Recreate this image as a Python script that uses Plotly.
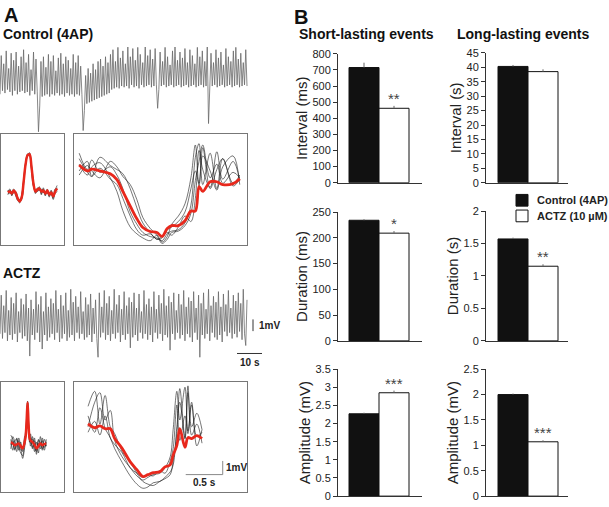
import numpy as np
import plotly.graph_objects as go

W, H = 609, 507
FONT = "Liberation Sans, Arial, sans-serif"

# ---------------- Panel B data ----------------
conditions = ["Control (4AP)", "ACTZ (10 µM)"]
short_interval = [715, 462]
short_interval_err = [30, 15]
long_interval = [40.3, 38.5]
long_interval_err = [0.5, 0.8]
short_duration = [234, 209]
short_duration_err = [2, 4]
long_duration = [1.57, 1.15]
long_duration_err = [0.02, 0.03]
short_amplitude = [2.27, 2.85]
short_amplitude_err = [0.03, 0.06]
long_amplitude = [2.0, 1.07]
long_amplitude_err = [0.02, 0.03]
stars_short = ["**", "*", "***"]
stars_long = ["", "**", "***"]

# ---------------- Panel A data (mV) ----------------
control_trace = [
    -0.2, 3.1, 0.1, 2.4, -0.1, 3.5, 0.2, 2.0, 0.0, 3.3,
    -0.3, 2.7, 0.1, 3.4, -0.2, 2.2, 0.0, 3.0, 0.1, 3.6,
    -0.1, 2.5, 0.0, 3.2, -0.3, 1.9, 0.1, 3.4, -0.2, 2.8,
    0.0, -3.4, -1.2, 2.6, -0.4, 3.0, -0.3, 2.1, -0.2, 3.2,
    -0.4, 2.6, -0.2, 3.1, -0.3, 1.8, -0.1, 2.9, -0.3, 3.3,
    -0.2, 2.4, -0.4, 3.0, -0.1, 2.7, -0.3, 2.0, -0.2, 3.2,
    -0.4, 2.5, -0.2, 3.1, -0.3, 2.2, -0.2, -3.3, -1.6, 1.4,
    -1.0, 2.0, -0.9, 1.6, -0.8, 2.4, -0.7, 1.9, -0.6, 2.6,
    -0.5, 2.8, -0.4, 2.2, -0.3, 3.0, -0.2, 2.5, -0.1, 3.2,
    0.2, 3.6, 0.3, 2.6, 0.4, 3.8, 0.3, 2.9, 0.5, 3.5,
    0.4, 2.4, 0.5, 3.9, 0.3, 3.0, 0.6, 3.7, 0.4, 2.7,
    0.5, 3.8, 0.3, 3.2, 0.6, 2.5, 0.4, 3.9, 0.5, 3.1,
    0.6, 3.6, 0.4, 2.8, 0.5, 3.7, 0.6, -1.4, 0.2, 3.4,
    0.5, 2.6, 0.6, 3.8, 0.4, 3.0, 0.5, 2.3, 0.6, 3.5,
    0.4, 3.9, 0.5, 2.7, 0.6, 3.4, 0.4, 2.9, 0.5, 3.7,
    0.6, 2.5, 0.4, 3.6, 0.5, 3.1, 0.6, 2.4, 0.4, 3.8,
    0.5, 3.0, 0.6, 3.5, 0.4, 2.6, 0.5, 3.9, -2.7, 0.3,
    3.3, 0.5, 2.5, 0.6, 3.6, 0.4, 2.9, 0.5, 3.4, 0.6,
    2.3, 0.4, 3.7, 0.5, 3.0, 0.6, 2.6, 0.4, 3.5, 0.5,
    3.8, 0.6, 2.8, 0.4, 3.3, 0.5, 2.5, 0.6, 3.6, 0.5,
]
actz_trace = [
    0.1, 3.4, -0.3, 2.5, 0.2, 3.8, -0.5, 2.1, 0.0, 3.2,
    -0.4, 2.7, 0.1, 3.6, -0.6, 2.0, 0.2, 3.1, -0.3, 2.6,
    -0.1, 3.5, -0.5, 2.3, -1.8, 3.0, 0.0, 2.2, -0.4, 3.7,
    0.2, 2.6, -0.6, 3.3, -1.2, 2.0, 0.0, 3.6, -0.5, 2.4,
    -0.2, 3.1, 0.1, 2.7, -0.4, 3.8, 0.2, 2.2, -0.6, 3.4,
    -0.3, 2.5, 0.1, 3.6, -0.5, 2.1, -0.2, 3.9, 0.0, 2.8,
    -0.5, 3.3, 0.2, 2.4, -0.3, 3.7, 0.1, 2.0, -0.4, 3.2,
    -0.2, 2.6, 0.0, 3.5, -0.6, 2.3, 0.1, 3.0, -0.3, -1.9,
    3.6, -0.2, 2.4, 0.2, 3.8, -0.4, 2.7, 0.0, 3.3, -0.5,
    2.1, 0.1, 3.9, -0.3, 2.6, 0.2, 3.4, -0.6, 2.2, 0.0,
    3.7, -0.4, 2.5, 0.1, 3.2, -1.1, 2.8, -0.2, 3.6, 0.0,
    2.3, -0.5, 3.5, 0.2, 2.0, -0.3, 3.8, 0.1, 2.6, -0.4,
    3.1, 0.0, 2.4, -0.6, 3.7, 0.2, 2.2, -0.3, 3.4, 0.1,
    2.7, -0.5, 3.9, 0.0, 2.5, -0.2, 3.3, -1.3, 2.8, 0.1,
    3.6, -0.4, 2.1, 0.2, 3.5, -0.3, 2.6, 0.0, 3.8, -0.5,
    2.4, 0.1, 3.2, -0.2, 2.9, -0.6, 3.7, 0.2, 2.3, -0.4,
    3.4, -1.9, 2.7, 0.0, 3.6, -0.3, 2.2, 0.1, 3.9, -0.5,
    2.5, 0.2, 3.3, -0.2, 2.8, -0.4, 3.7, 0.0, 2.4, -0.6,
    3.5, 0.3, 2.6, -0.1, 3.8, 0.2, 2.3, -0.3, 3.4, 0.1,
    2.9, -0.2, 3.6, 0.3, 2.7, -0.4, 3.9, 0.1, -0.9, 3.0,
]
trace_duration_s = 98.8

# short-lasting event overlays (time in ms)
ctrl_short_t = [28, 36, 44, 52, 60, 68, 76, 84, 92, 100, 108, 116, 124,
                132, 140, 148, 156, 164, 172, 180, 188, 196, 204, 212, 220, 228]
ctrl_short_avg = [0, 0.08, -0.08, 0.17, -0.08, -0.5, -0.75, -0.42, 0.92, 2.42, 3.17, 3.25, 2.17,
                  0.75, 0.08, 0.25, 0.33, 0.08, 0.17, -0.08, 0.17, -0.17, 0, -0.33, 0.08, 0.33]
ctrl_short_sweeps = [
    [0.2, -0.1, 0.1, 0.3, -0.2, -0.6, -0.9, -0.3, 1.1, 2.6, 3.3, 3.1, 1.9, 0.5, 0.3, 0.1, 0.5, -0.1, 0.3, -0.3, 0.2, -0.4, 0.1, -0.5, 0.2, 0.6],
    [-0.2, 0.2, -0.2, 0.0, 0.1, -0.4, -0.8, -0.6, 0.7, 2.3, 3.2, 3.4, 2.4, 0.9, -0.1, 0.4, 0.2, 0.2, 0.0, 0.1, -0.1, 0.0, -0.2, -0.2, -0.1, 0.1],
    [0.1, 0.3, -0.3, 0.2, -0.3, -0.7, -0.6, -0.5, 1.0, 2.5, 3.1, 3.2, 2.0, 0.6, 0.2, 0.3, 0.4, -0.2, 0.4, -0.2, 0.3, -0.3, -0.1, -0.6, 0.0, 0.4],
    [-0.1, 0.0, 0.0, 0.1, 0.0, -0.5, -0.8, -0.2, 0.9, 2.4, 3.2, 3.3, 2.2, 0.8, 0.0, 0.1, 0.2, 0.3, 0.0, 0.0, 0.0, -0.1, 0.2, -0.3, 0.3, 0.2],
]
actz_short_t = [40, 48, 56, 64, 72, 80, 88, 96, 100, 104, 108, 112, 116,
                120, 128, 136, 144, 152, 160, 168, 176, 184]
actz_short_avg = [0.07, 0, -0.14, -0.07, 0, -0.2, -0.36, 0.1, 0.5, 1.6, 3.0, 1.4, 0.4,
                  0.21, 0.1, -0.1, -0.36, -0.2, 0.0, -0.14, -0.05, 0.0]
actz_short_sweeps = [
    [0.6, 0.3, -0.5, 0.4, -0.3, -0.7, -0.9, 0.3, 0.9, 1.9, 3.1, 1.6, 0.2, 0.7, -0.3, 0.4, -0.8, 0.3, -0.4, 0.2, -0.5, 0.3],
    [-0.4, 0.5, 0.1, -0.6, 0.4, -0.2, -1.1, -0.3, 0.4, 1.4, 2.9, 1.2, 0.6, -0.2, 0.5, -0.6, 0.1, -0.7, 0.5, -0.4, 0.3, -0.2],
    [0.3, -0.5, 0.2, 0.3, -0.5, 0.1, -0.6, 0.5, 0.6, 1.7, 3.0, 1.3, 0.1, 0.4, -0.4, 0.2, -0.5, 0.0, -0.2, 0.4, -0.3, 0.1],
    [-0.1, 0.2, -0.4, -0.2, 0.2, -0.5, -0.4, -0.1, 0.5, 1.5, 3.0, 1.5, 0.5, 0.0, 0.3, -0.3, -0.6, 0.2, 0.1, -0.5, 0.0, -0.2],
]

# long-lasting event overlays (time in s)
ctrl_long_t = [0.07, 0.18, 0.24, 0.35, 0.49, 0.58, 0.66, 0.76, 0.85, 0.93, 1.03, 1.12, 1.19,
               1.26, 1.32, 1.41, 1.50, 1.58, 1.64, 1.69, 1.74, 1.84, 1.93, 2.01, 2.15, 2.24]
ctrl_long_avg = [1.93, 1.5, 1.64, 1.5, 1.29, 0.86, 0.0, -1.07, -2.0, -2.64, -2.93, -3.0, -3.29,
                 -2.71, -2.5, -2.5, -2.14, -1.43, -1.43, 0.36, 0.0, 0.71, 0.71, 0.5, 0.57, 0.93]
ctrl_long_sweeps = [
    [2.8, 1.6, 2.3, 1.4, 1.8, 1.2, 0.2, -1.5, -2.4, -3.0, -3.3, -3.4, -3.6, -3.1, -2.9, -2.8, -2.3, -1.0, 2.5, 3.5, 0.5, 2.8, 0.2, 2.4, 0.6, 1.2],
    [1.5, 2.2, 1.1, 2.5, 1.9, 1.6, 1.3, 0.2, -1.2, -2.3, -3.0, -3.5, -3.3, -3.0, -3.2, -2.6, -1.8, -2.2, -0.5, 3.0, 1.6, 0.3, 2.9, 0.9, 2.2, 0.8],
    [2.0, 1.2, 1.8, 2.1, 1.0, 0.0, -1.4, -2.6, -3.1, -3.4, -3.6, -3.2, -3.7, -3.3, -2.4, -1.8, -0.9, 1.0, 3.4, 0.4, 2.6, 1.5, 0.1, 1.8, 2.6, 0.5],
    [1.2, 1.9, 1.5, 1.0, 2.2, 1.8, 1.1, 0.5, -0.6, -1.9, -2.7, -3.2, -3.8, -3.5, -3.0, -2.9, -2.5, -1.6, 0.8, 2.2, 3.4, 1.0, 2.0, 0.6, 1.4, 1.0],
    [2.4, 1.4, 1.1, 1.7, 0.9, 0.5, -0.5, -1.8, -2.8, -3.2, -3.1, -3.5, -3.4, -2.8, -2.6, -2.2, -1.5, 0.2, 1.5, 0.6, 3.2, 0.2, 1.6, 2.4, 0.4, 0.9],
]
actz_long_t = [0.19, 0.28, 0.35, 0.42, 0.49, 0.55, 0.65, 0.76, 0.85, 0.93, 1.0, 1.07, 1.16,
               1.23, 1.30, 1.34, 1.39, 1.43, 1.50, 1.54, 1.59, 1.66, 1.73]
actz_long_avg = [1.21, 0.93, 1.07, 0.86, 0.86, 0.14, -0.57, -1.57, -2.14, -2.64, -2.5, -2.36, -2.29,
                 -1.93, -1.79, -1.07, -0.36, 0.86, -0.5, 0.21, 0.14, 0.36, 0.14]
actz_long_sweeps = [
    [2.5, 3.6, 1.2, 3.3, 1.0, 0.5, -0.8, -1.6, -2.4, -3.0, -3.2, -3.3, -3.0, -2.8, -2.5, -1.5, 0.5, 3.8, 0.2, 3.5, 1.0, 2.0, 0.8],
    [1.0, 2.8, 3.5, 1.5, 2.2, 0.0, -1.2, -2.0, -2.6, -2.9, -2.7, -2.5, -2.4, -2.0, -1.2, 0.8, 3.6, 1.5, 3.9, 0.5, 2.8, 0.3, 0.6],
    [1.8, 0.6, 2.4, 0.9, 0.2, -0.6, -1.6, -2.6, -3.2, -3.5, -3.4, -3.1, -3.0, -2.7, -2.3, -1.8, 1.0, 2.8, 0.1, 4.0, 0.4, 1.2, -0.2],
    [0.6, 1.4, 0.4, 1.8, 0.2, -0.3, -0.9, -2.0, -2.4, -2.7, -2.5, -2.6, -2.2, -2.4, -1.5, -0.6, 2.6, 0.0, 1.8, 0.7, 2.6, -0.4, 0.8],
]

# ---------------- helpers ----------------
def dom_x(a, b):
    return [a / W, b / W]

def dom_y(top, bottom):
    return [1 - bottom / H, 1 - top / H]

fig = go.Figure()
layout = dict(
    width=W, height=H, margin=dict(l=0, r=0, t=0, b=0),
    paper_bgcolor="white", plot_bgcolor="white", showlegend=False,
    font=dict(family=FONT, color="#222"),
)
annotations = []
shapes = []

RED = "#e8281c"
SWEEP = "#1a1a1a"
TRACE = "#6a6a6a"

def hidden_axes(n, xd, yd, xr, yr, box=False):
    ax = dict(domain=xd, range=xr, showgrid=False, zeroline=False, showticklabels=False,
              ticks="", anchor=f"y{n}", fixedrange=True)
    ay = dict(domain=yd, range=yr, showgrid=False, zeroline=False, showticklabels=False,
              ticks="", anchor=f"x{n}", fixedrange=True)
    if box:
        for a in (ax, ay):
            a.update(showline=True, mirror=True, linecolor="#777", linewidth=1)
    layout[f"xaxis{n}"] = ax
    layout[f"yaxis{n}"] = ay

# 1: control continuous trace
t_ctrl = np.linspace(0, trace_duration_s, len(control_trace))
hidden_axes(1, dom_x(0, 290), dom_y(42, 130), [0, 116], [-3.5, 3.83])
fig.add_trace(go.Scatter(x=t_ctrl, y=control_trace, mode="lines",
                         line=dict(color=TRACE, width=0.8), xaxis="x1", yaxis="y1"))

# 4: ACTZ continuous trace + scale bars
t_actz = np.linspace(0, trace_duration_s, len(actz_trace))
hidden_axes(4, dom_x(0, 290), dom_y(285, 372), [0, 116], [-2.92, 4.33])
fig.add_trace(go.Scatter(x=t_actz, y=actz_trace, mode="lines",
                         line=dict(color=TRACE, width=0.8), xaxis="x4", yaxis="y4"))
fig.add_trace(go.Scatter(x=[94.8, 104.8], y=[-1.58, -1.58], mode="lines",
                         line=dict(color="#333", width=1), xaxis="x4", yaxis="y4"))
fig.add_trace(go.Scatter(x=[101.2, 101.2], y=[0.33, 1.33], mode="lines",
                         line=dict(color="#333", width=1), xaxis="x4", yaxis="y4"))
annotations.append(dict(x=102.6, y=0.83, xref="x4", yref="y4", text="<b>1mV</b>", showarrow=False,
                        xanchor="left", yanchor="middle", font=dict(size=10, color="#222")))
annotations.append(dict(x=99.8, y=-2.33, xref="x4", yref="y4", text="<b>10 s</b>", showarrow=False,
                        xanchor="center", yanchor="middle", font=dict(size=10, color="#222")))

# 2: control short inset
hidden_axes(2, dom_x(1, 64), dom_y(131, 245), [0, 256], [-4.5, 5.0], box=True)
for sw in ctrl_short_sweeps:
    fig.add_trace(go.Scatter(x=ctrl_short_t, y=sw, mode="lines", line=dict(color=SWEEP, width=0.6, shape="spline"),
                             xaxis="x2", yaxis="y2"))
fig.add_trace(go.Scatter(x=ctrl_short_t, y=ctrl_short_avg, mode="lines", line=dict(color=RED, width=2.5, shape="spline"),
                         xaxis="x2", yaxis="y2"))

# 3: control long inset
hidden_axes(3, dom_x(74, 247), dom_y(131, 245), [0, 2.338], [-3.93, 4.21], box=True)
for sw in ctrl_long_sweeps:
    fig.add_trace(go.Scatter(x=ctrl_long_t, y=sw, mode="lines", line=dict(color=SWEEP, width=0.6, shape="spline"),
                             xaxis="x3", yaxis="y3"))
fig.add_trace(go.Scatter(x=ctrl_long_t, y=ctrl_long_avg, mode="lines", line=dict(color=RED, width=2.8, shape="spline"),
                         xaxis="x3", yaxis="y3"))

# 5: ACTZ short inset
hidden_axes(5, dom_x(1, 64), dom_y(385, 498), [0, 256], [-3.57, 4.5], box=True)
for sw in actz_short_sweeps:
    fig.add_trace(go.Scatter(x=actz_short_t, y=sw, mode="lines", line=dict(color=SWEEP, width=0.6, shape="spline"),
                             xaxis="x5", yaxis="y5"))
fig.add_trace(go.Scatter(x=actz_short_t, y=actz_short_avg, mode="lines", line=dict(color=RED, width=2.5, shape="spline"),
                         xaxis="x5", yaxis="y5"))

# 6: ACTZ long inset + scale bars
hidden_axes(6, dom_x(74, 247), dom_y(385, 498), [0, 2.338], [-3.79, 4.29], box=True)
for sw in actz_long_sweeps:
    fig.add_trace(go.Scatter(x=actz_long_t, y=sw, mode="lines", line=dict(color=SWEEP, width=0.6, shape="spline"),
                             xaxis="x6", yaxis="y6"))
fig.add_trace(go.Scatter(x=actz_long_t, y=actz_long_avg, mode="lines", line=dict(color=RED, width=2.8, shape="spline"),
                         xaxis="x6", yaxis="y6"))
fig.add_trace(go.Scatter(x=[1.51, 2.01, 2.01], y=[-2.5, -2.5, -1.5], mode="lines",
                         line=dict(color="#888", width=1), xaxis="x6", yaxis="y6"))
annotations.append(dict(x=2.03, y=-1.95, xref="x6", yref="y6", text="<b>1mV</b>", showarrow=False,
                        xanchor="left", yanchor="middle", font=dict(size=10, color="#222")))
annotations.append(dict(x=1.76, y=-3.05, xref="x6", yref="y6", text="<b>0.5 s</b>", showarrow=False,
                        xanchor="center", yanchor="middle", font=dict(size=10, color="#222")))

# ---------------- Panel B bar charts ----------------
bar_panels = [
    (7, short_interval, short_interval_err, stars_short[0], "Interval (ms)", 100, 800, (338, 422), (49, 181), 0.133),
    (8, long_interval, long_interval_err, stars_long[0], "Interval (s)", 5, 45, (486, 568), (48, 181), 0.1),
    (9, short_duration, short_duration_err, stars_short[1], "Duration (ms)", 50, 250, (338, 422), (211, 343), 0.133),
    (10, long_duration, long_duration_err, stars_long[1], "Duration (s)", 0.5, 2, (486, 568), (210, 343), 0.1),
    (11, short_amplitude, short_amplitude_err, stars_short[2], "Amplitude (mV)", 0.5, 3.5, (338, 422), (372, 502), 0.133),
    (12, long_amplitude, long_amplitude_err, stars_long[2], "Amplitude (mV)", 0.5, 2.5, (486, 568), (372, 502), 0.1),
]
for n, vals, errs, star, title, dtick, ymax, xpx, ypx, x0 in bar_panels:
    width_units = (xpx[1] - xpx[0]) / 30.0
    layout[f"xaxis{n}"] = dict(domain=dom_x(*xpx), range=[x0, x0 + width_units], showgrid=False, zeroline=False,
                               showticklabels=False, ticks="", showline=True, linecolor="#333", linewidth=1,
                               anchor=f"y{n}", fixedrange=True)
    layout[f"yaxis{n}"] = dict(domain=dom_y(*ypx), range=[0, ymax], dtick=dtick, showgrid=False, zeroline=False,
                               showline=True, linecolor="#333", linewidth=1, ticks="outside", ticklen=4,
                               tickcolor="#333", tickfont=dict(size=11, color="#222"),
                               title=dict(text=title, font=dict(size=15, color="#222"), standoff=1),
                               anchor=f"x{n}", fixedrange=True)
    fig.add_trace(go.Bar(x=[1, 2], y=vals, width=[1, 1],
                         marker=dict(color=["#111111", "#ffffff"], line=dict(color="#111", width=1)),
                         error_y=dict(type="data", symmetric=False, array=errs, arrayminus=[0, 0],
                                      color="#666", thickness=1, width=0),
                         xaxis=f"x{n}", yaxis=f"y{n}"))
    if star:
        annotations.append(dict(x=2, y=vals[1] + errs[1], xref=f"x{n}", yref=f"y{n}", text=star, showarrow=False,
                                xanchor="center", yanchor="bottom", yshift=-3,
                                font=dict(size=15, color="#444")))

# legend (manual)
shapes.append(dict(type="rect", xref="paper", yref="paper", x0=516 / W, x1=528 / W,
                   y0=1 - 205 / H, y1=1 - 193 / H, fillcolor="#111", line=dict(color="#111", width=1)))
shapes.append(dict(type="rect", xref="paper", yref="paper", x0=516 / W, x1=528 / W,
                   y0=1 - 221 / H, y1=1 - 209 / H, fillcolor="white", line=dict(color="#111", width=1)))
annotations.append(dict(x=535 / W, y=1 - 199 / H, xref="paper", yref="paper", text=f"<b>{conditions[0]}</b>",
                        showarrow=False, xanchor="left", yanchor="middle", font=dict(size=11, color="#222")))
annotations.append(dict(x=535 / W, y=1 - 215 / H, xref="paper", yref="paper", text=f"<b>{conditions[1]}</b>",
                        showarrow=False, xanchor="left", yanchor="middle", font=dict(size=11, color="#222")))

def label(text, x, y, size, anchor="left"):
    annotations.append(dict(x=x / W, y=1 - y / H, xref="paper", yref="paper", text=f"<b>{text}</b>",
                            showarrow=False, xanchor=anchor, yanchor="middle", font=dict(size=size, color="#111")))

label("A", 2, 9, 20)
label("Control (4AP)", 1, 29, 14)
label("ACTZ", 1, 273, 14)
label("B", 292, 11, 20)
label("Short-lasting events", 366, 29, 14, "center")
label("Long-lasting events", 523, 29, 14, "center")

layout["annotations"] = annotations
layout["shapes"] = shapes
fig.update_layout(**layout)
fig.write_html("out.html", config={"displayModeBar": False},
               post_script="document.body.style.margin='0';document.body.style.padding='0';")
